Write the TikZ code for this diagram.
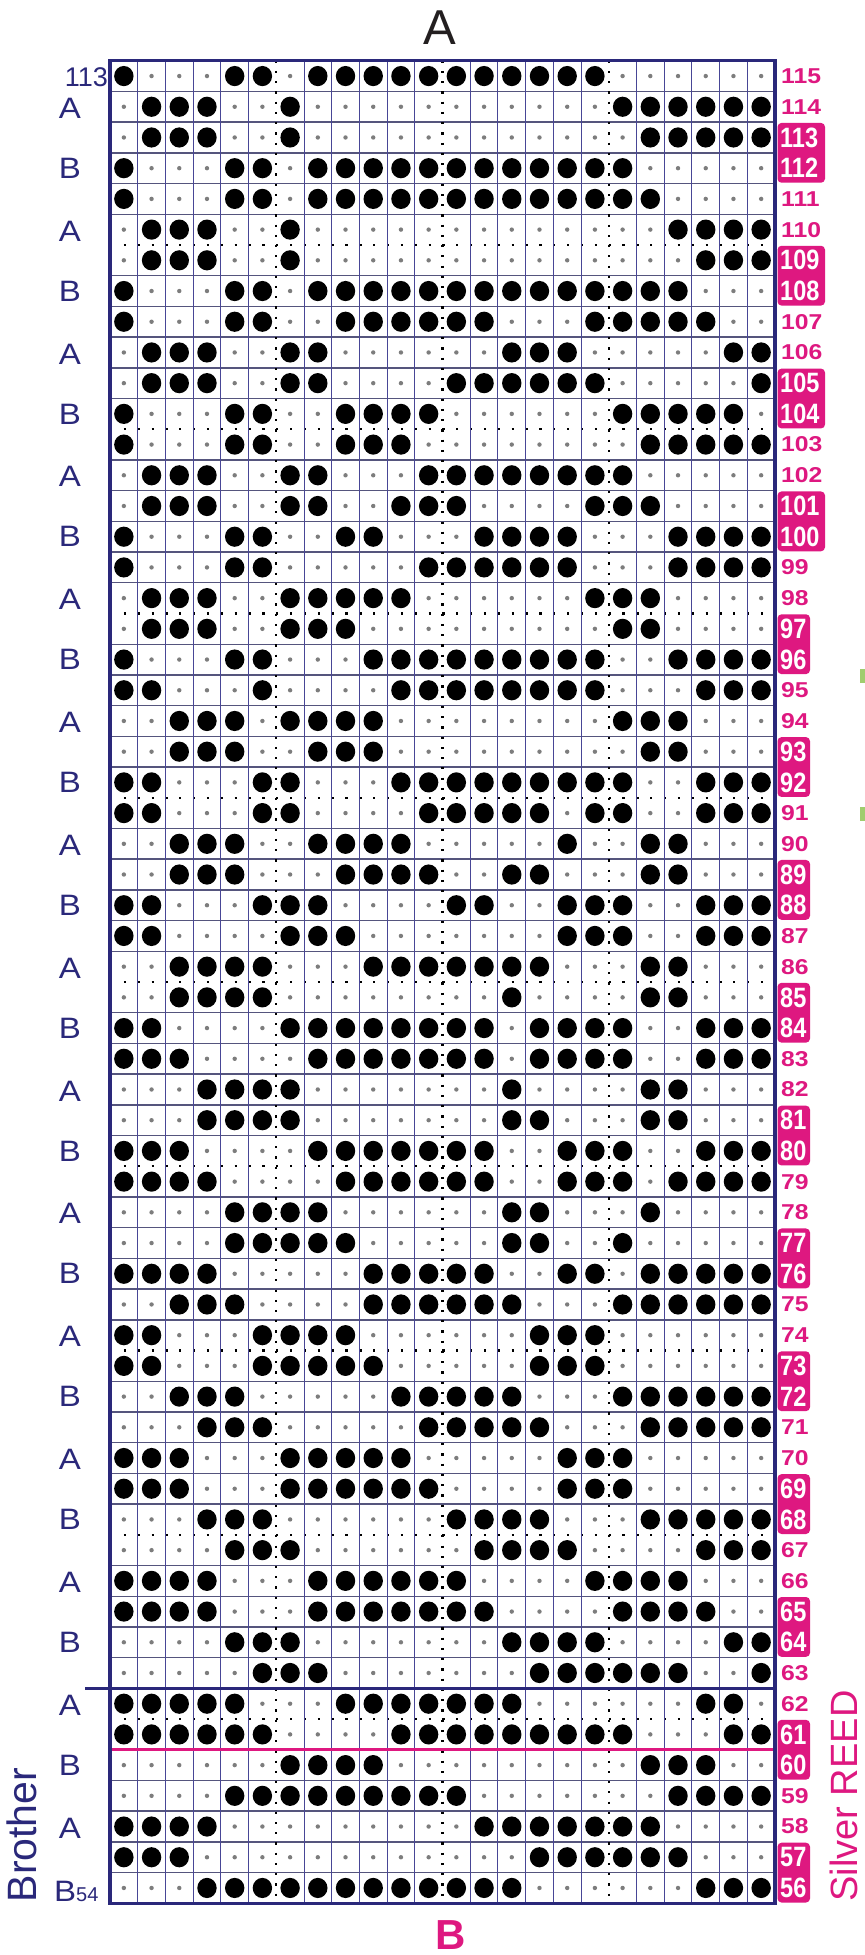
\documentclass[tikz,border=0pt]{standalone}
\usepackage{fontspec}
\setmainfont{Liberation Sans}
\definecolor{navy}{RGB}{42,40,122}
\definecolor{gridv}{RGB}{72,70,150}
\definecolor{gridh}{RGB}{85,85,125}
\definecolor{mag}{RGB}{222,24,128}
\definecolor{sdot}{RGB}{125,125,125}
\definecolor{tickg}{RGB}{160,205,110}
\definecolor{ink}{RGB}{35,31,32}
\begin{document}
\begin{tikzpicture}[x=1pt,y=-1pt,
  hline/.style={draw=gridh,line width=1.4pt},
  vline/.style={draw=gridv,line width=0.9pt},
  hdot/.style={draw=black,line width=2.2pt,dash pattern=on 2.2pt off 11.65pt},
  vdot/.style={draw=black,line width=2.2pt,dash pattern=on 2.2pt off 8.04pt},
  frame/.style={draw=navy,line width=3.5pt},
  bigdot/.style={fill=black},
  smalldot/.style={fill=sdot},
  leftlab/.style={text=navy,inner sep=0pt},
  numlab/.style={text=mag,inner sep=0pt,anchor=west},
  boxlab/.style={text=white,inner sep=0pt,anchor=west},
  numbox/.style={fill=mag,rounded corners=4pt}
]
\def\GL{110}\def\GR{775}\def\GT{60.7}\def\GB{1903.3}
\def\CW{27.7083}\def\RH{30.71}
\useasboundingbox (0,0) rectangle (865,1955);
\fill[white] (0,0) rectangle (865,1955);

% horizontal lines
\foreach \k in {1,...,59}{
  \pgfmathtruncatemacro{\m}{mod(\k,6)}
  \ifnum\m=0
    \draw[hdot] (\GL,\GT+\RH*\k) -- (\GR,\GT+\RH*\k);
  \else\ifnum\k=53\else\ifnum\k=55\else
    \draw[hline] (\GL,\GT+\RH*\k) -- (\GR,\GT+\RH*\k);
  \fi\fi\fi
}
% vertical lines
\foreach \c in {1,...,23}{
  \pgfmathtruncatemacro{\m}{mod(\c,6)}
  \ifnum\m=0
    \draw[vdot] (\GL+\CW*\c,\GT) -- (\GL+\CW*\c,\GB);
  \else
    \draw[vline] (\GL+\CW*\c,\GT) -- (\GL+\CW*\c,\GB);
  \fi
}
% separator lines
\draw[navy,line width=3.5pt] (85,\GT+\RH*53) -- (\GR,\GT+\RH*53);
\draw[mag,line width=3pt] (\GL,\GT+\RH*55) -- (\GR,\GT+\RH*55);
% frame
\draw[frame] (\GL,\GT) rectangle (\GR,\GB);

% small dots
\foreach \i in {0,...,59}{
  \foreach \c in {1,...,24}{
    \fill[smalldot] (\GL+\CW*\c-\CW/2,\GT+\RH*\i+\RH/2) circle (2.2);
  }
}
% big dots
\foreach \r/\cols in {
115/{1,5,6,8,9,10,11,12,13,14,15,16,17,18},
114/{2,3,4,7,19,20,21,22,23,24},
113/{2,3,4,7,20,21,22,23,24},
112/{1,5,6,8,9,10,11,12,13,14,15,16,17,18,19},
111/{1,5,6,8,9,10,11,12,13,14,15,16,17,18,19,20},
110/{2,3,4,7,21,22,23,24},
109/{2,3,4,7,22,23,24},
108/{1,5,6,8,9,10,11,12,13,14,15,16,17,18,19,20,21},
107/{1,5,6,9,10,11,12,13,14,18,19,20,21,22},
106/{2,3,4,7,8,15,16,17,23,24},
105/{2,3,4,7,8,13,14,15,16,17,18,24},
104/{1,5,6,9,10,11,12,19,20,21,22,23},
103/{1,5,6,9,10,11,20,21,22,23,24},
102/{2,3,4,7,8,12,13,14,15,16,17,18,19},
101/{2,3,4,7,8,11,12,13,18,19,20},
100/{1,5,6,9,10,14,15,16,17,21,22,23,24},
99/{1,5,6,12,13,14,15,16,17,21,22,23,24},
98/{2,3,4,7,8,9,10,11,18,19,20},
97/{2,3,4,7,8,9,19,20},
96/{1,5,6,10,11,12,13,14,15,16,17,18,21,22,23,24},
95/{1,2,6,11,12,13,14,15,16,17,18,22,23,24},
94/{3,4,5,7,8,9,10,19,20,21},
93/{3,4,5,8,9,10,20,21},
92/{1,2,6,7,11,12,13,14,15,16,17,18,19,22,23,24},
91/{1,2,6,7,12,13,14,15,16,18,19,22,23,24},
90/{3,4,5,8,9,10,11,17,20,21},
89/{3,4,5,9,10,11,12,15,16,20,21},
88/{1,2,6,7,8,13,14,17,18,19,22,23,24},
87/{1,2,7,8,9,17,18,19,22,23,24},
86/{3,4,5,6,10,11,12,13,14,15,16,20,21},
85/{3,4,5,6,15,20,21},
84/{1,2,7,8,9,10,11,12,13,14,16,17,18,19,22,23,24},
83/{1,2,3,8,9,10,11,12,13,14,16,17,18,19,22,23,24},
82/{4,5,6,7,15,20,21},
81/{4,5,6,7,15,16,20,21},
80/{1,2,3,8,9,10,11,12,13,14,17,18,19,22,23,24},
79/{1,2,3,4,9,10,11,12,13,14,17,18,19,21,22,23,24},
78/{5,6,7,8,15,16,20},
77/{5,6,7,8,9,15,16,19},
76/{1,2,3,4,10,11,12,13,14,17,18,20,21,22,23,24},
75/{3,4,5,10,11,12,13,14,15,19,20,21,22,23,24},
74/{1,2,6,7,8,9,16,17,18},
73/{1,2,6,7,8,9,10,16,17,18},
72/{3,4,5,11,12,13,14,15,19,20,21,22,23,24},
71/{4,5,6,12,13,14,15,16,20,21,22,23,24},
70/{1,2,3,7,8,9,10,11,17,18,19},
69/{1,2,3,7,8,9,10,11,12,17,18,19},
68/{4,5,6,13,14,15,16,20,21,22,23,24},
67/{5,6,7,14,15,16,17,22,23,24},
66/{1,2,3,4,8,9,10,11,12,13,18,19,20,21},
65/{1,2,3,4,8,9,10,11,12,13,14,19,20,21,22},
64/{5,6,7,15,16,17,18,23,24},
63/{6,7,8,16,17,18,19,20,21,24},
62/{1,2,3,4,5,9,10,11,12,13,14,15,22,23},
61/{1,2,3,4,5,6,11,12,13,14,15,16,17,18,19,23,24},
60/{7,8,9,10,20,21,22},
59/{5,6,7,8,9,10,11,12,13,21,22,23,24},
58/{1,2,3,4,14,15,16,17,18,19,20},
57/{1,2,3,16,17,18,19,20,21},
56/{4,5,6,7,8,9,10,11,12,13,14,15,22,23,24}}{
  \pgfmathsetmacro{\yy}{\GT+\RH*(115-\r+0.5)}
  \foreach \c in \cols{
    \fill[bigdot] (\GL+\CW*\c-\CW/2,\yy) ellipse (9.7 and 10.1);
  }
}

% right-hand number boxes
\foreach \r in {113,109,...,57}{
  \pgfmathsetmacro{\yt}{\GT+\RH*(115-\r)}
  \ifnum\r>99 \def\xr{825}\else\def\xr{810}\fi
  \fill[numbox] (777.5,\yt+0.8) rectangle (\xr,\yt+2*\RH-0.8);
}
% right-hand numbers
\foreach \r in {56,...,115}{
  \pgfmathsetmacro{\yc}{\GT+\RH*(115-\r+0.5)}
  \pgfmathtruncatemacro{\m}{mod(\r,4)}
  \ifnum\m<2
    \node[boxlab] (R\r) at (780,\yc) {\scalebox{0.84}[1]{\bfseries\fontsize{28}{28}\selectfont\r}};
  \else
    \node[numlab] (R\r) at (781,\yc) {\scalebox{1.15}[1]{\bfseries\fontsize{21.5}{21.5}\selectfont\r}};
  \fi
}
% left letters
\foreach \r in {114,110,...,58}{
  \pgfmathsetmacro{\yc}{\GT+\RH*(115-\r+0.5)+1.5}
  \node[leftlab] (LA\r) at (70,\yc) {\scalebox{1.12}[1]{\fontsize{29.5}{30}\selectfont A}};
}
\foreach \r in {112,108,...,60}{
  \pgfmathsetmacro{\yc}{\GT+\RH*(115-\r+0.5)}
  \node[leftlab] (LB\r) at (70,\yc) {\scalebox{1.12}[1]{\fontsize{29.5}{30}\selectfont B}};
}
\node[leftlab,anchor=base west] (LB56) at (54,1901.5) {\scalebox{1.12}[1]{\fontsize{29.5}{30}\selectfont B}\fontsize{20}{20}\selectfont 54};
\node[leftlab,anchor=east] (L113) at (108,77.5) {\fontsize{27}{27}\selectfont 113};

% titles
\node[inner sep=0pt,text=ink] (topA) at (440,27.5) {\fontsize{49}{49}\selectfont A};
\node[inner sep=0pt,text=mag] (botB) at (451,1935) {\bfseries\fontsize{42}{42}\selectfont B};
\node[inner sep=0pt,text=navy,rotate=90] (brother) at (22,1835) {\fontsize{41}{41}\selectfont Brother};
\node[inner sep=0pt,text=mag,rotate=90] (silver) at (844,1796) {\fontsize{38}{38}\selectfont Silver REED};

% small green marks at right edge
\fill[tickg] (860,669) rectangle (865,683);
\fill[tickg] (860,807) rectangle (865,821);
\end{tikzpicture}
\end{document}
